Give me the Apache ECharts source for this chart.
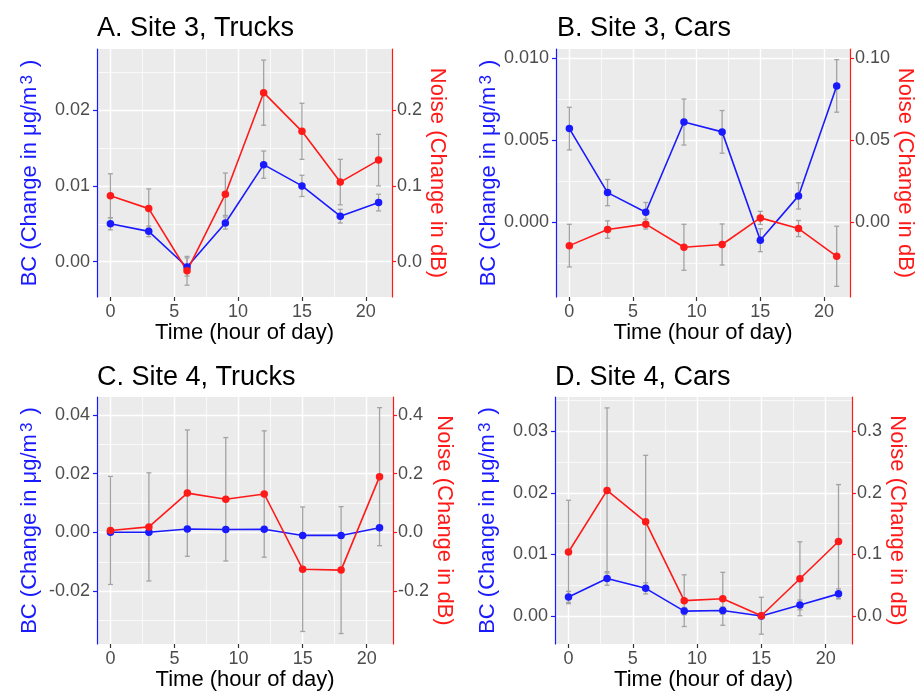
<!DOCTYPE html>
<html>
<head>
<meta charset="utf-8">
<script src="https://cdn.jsdelivr.net/npm/echarts@6/dist/echarts.min.js"></script>
<style>
  html, body { margin: 0; padding: 0; background: #fff; }
  #main { width: 917px; height: 695px; }
</style>
</head>
<body>
<div id="main"></div>
<script>
// hours of day, shared by all panels
var hours = [0, 3, 6, 9, 12, 15, 18, 21];
var hourTicks = [0, 5, 10, 15, 20];

var titles = ['A. Site 3, Trucks', 'B. Site 3, Cars', 'C. Site 4, Trucks', 'D. Site 4, Cars'];

// BC (change in ug/m3) and its error (half width)
var bcA = [0.0050, 0.0040, -0.0007, 0.0051, 0.0128, 0.0100, 0.0060, 0.0078];
var bcErrA = [0.0008, 0.0007, 0.0012, 0.0008, 0.0018, 0.0014, 0.0009, 0.0011];
var bcB = [0.0057, 0.0018, 0.0006, 0.0061, 0.0055, -0.0011, 0.0016, 0.0083];
var bcErrB = [0.0013, 0.0008, 0.0006, 0.0014, 0.0013, 0.0007, 0.0008, 0.0016];
var bcC = [0.0001, 0.0001, 0.0012, 0.0010, 0.0011, -0.0010, -0.0010, 0.0016];
var bcErrC = [0.0006, 0.0006, 0.0007, 0.0007, 0.0007, 0.0006, 0.0006, 0.0008];
var bcD = [0.0031, 0.0061, 0.0045, 0.0008, 0.0009, 0.0000, 0.0018, 0.0036];
var bcErrD = [0.0009, 0.0011, 0.0009, 0.0006, 0.0006, 0.0004, 0.0008, 0.0008];

// Noise (change in dB) and its error
var noiseA = [0.087, 0.070, -0.012, 0.089, 0.223, 0.172, 0.105, 0.134];
var noiseErrA = [0.029, 0.026, 0.019, 0.028, 0.043, 0.037, 0.030, 0.034];
var noiseB = [-0.0143, -0.0045, -0.0012, -0.0153, -0.0136, 0.0026, -0.0039, -0.0208];
var noiseErrB = [0.013, 0.0053, 0.003, 0.014, 0.0125, 0.004, 0.0049, 0.0183];
var noiseC = [0.007, 0.019, 0.134, 0.113, 0.131, -0.125, -0.128, 0.190];
var noiseErrC = [0.184, 0.184, 0.215, 0.210, 0.215, 0.212, 0.216, 0.235];
var noiseD = [0.104, 0.204, 0.153, 0.025, 0.028, 0.0005, 0.0605, 0.121];
var noiseErrD = [0.084, 0.134, 0.108, 0.042, 0.043, 0.030, 0.060, 0.0925];

// tick values / labels
var bcTicksA = [0, 0.01, 0.02];
var bcLabelsA = ['0.00', '0.01', '0.02'];
var noiseTicksA = [0, 0.1, 0.2];
var noiseLabelsA = ['0.0', '0.1', '0.2'];
var bcTicksB = [0, 0.005, 0.01];
var bcLabelsB = ['0.000', '0.005', '0.010'];
var noiseTicksB = [0, 0.05, 0.1];
var noiseLabelsB = ['0.00', '0.05', '0.10'];
var bcTicksC = [-0.02, 0, 0.02, 0.04];
var bcLabelsC = ['-0.02', '0.00', '0.02', '0.04'];
var noiseTicksC = [-0.2, 0, 0.2, 0.4];
var noiseLabelsC = ['-0.2', '0.0', '0.2', '0.4'];
var bcTicksD = [0, 0.01, 0.02, 0.03];
var bcLabelsD = ['0.00', '0.01', '0.02', '0.03'];
var noiseTicksD = [0, 0.1, 0.2, 0.3];
var noiseLabelsD = ['0.0', '0.1', '0.2', '0.3'];

var panels = [
  { bc: bcA, bcErr: bcErrA, noise: noiseA, noiseErr: noiseErrA, bcTicks: bcTicksA, bcLabels: bcLabelsA, noiseTicks: noiseTicksA, noiseLabels: noiseLabelsA,
    min: -0.00466, max: 0.02806, step: 0.01, grid: { left: 97, top: 49, width: 295, height: 248 }, titlePos: [97, 15] },
  { bc: bcB, bcErr: bcErrB, noise: noiseB, noiseErr: noiseErrB, bcTicks: bcTicksB, bcLabels: bcLabelsB, noiseTicks: noiseTicksB, noiseLabels: noiseLabelsB,
    min: -0.00456, max: 0.01055, step: 0.005, grid: { left: 556, top: 49, width: 295, height: 248 }, titlePos: [557, 15] },
  { bc: bcC, bcErr: bcErrC, noise: noiseC, noiseErr: noiseErrC, bcTicks: bcTicksC, bcLabels: bcLabelsC, noiseTicks: noiseTicksC, noiseLabels: noiseLabelsC,
    min: -0.03796, max: 0.04612, step: 0.02, grid: { left: 97, top: 397, width: 296, height: 247 }, titlePos: [97, 364] },
  { bc: bcD, bcErr: bcErrD, noise: noiseD, noiseErr: noiseErrD, bcTicks: bcTicksD, bcLabels: bcLabelsD, noiseTicks: noiseTicksD, noiseLabels: noiseLabelsD,
    min: -0.00454, max: 0.03557, step: 0.01, grid: { left: 555, top: 397, width: 297, height: 247 }, titlePos: [555, 364] }
];

var FONT = '"Liberation Sans", Arial, sans-serif';
var BLUE = '#1a1aff';
var RED = '#ff1a1a';
var TICK_GREY = '#4d4d4d';

function labelFor(ticks, labels) {
  return function (v) {
    for (var i = 0; i < ticks.length; i++) {
      if (Math.abs(ticks[i] - v) < 1e-9) return labels[i];
    }
    return '';
  };
}

function errData(vals, errs) {
  return hours.map(function (h, i) {
    return [h, vals[i] - errs[i], vals[i] + errs[i]];
  });
}

function renderErr(params, api) {
  var top = api.coord([api.value(0), api.value(2)]);
  var bot = api.coord([api.value(0), api.value(1)]);
  var cap = 2.5;
  var st = { stroke: '#a3a3a3', lineWidth: 1.3 };
  return {
    type: 'group',
    children: [
      { type: 'line', shape: { x1: top[0], y1: top[1], x2: bot[0], y2: bot[1] }, style: st },
      { type: 'line', shape: { x1: top[0] - cap, y1: top[1], x2: top[0] + cap, y2: top[1] }, style: st },
      { type: 'line', shape: { x1: bot[0] - cap, y1: bot[1], x2: bot[0] + cap, y2: bot[1] }, style: st }
    ]
  };
}

var grids = [], xAxes = [], yAxes = [], series = [], titleList = [];

panels.forEach(function (p, i) {
  grids.push(Object.assign({ backgroundColor: '#ebebeb', show: true, borderWidth: 0 }, p.grid));
  titleList.push({
    text: titles[i], left: p.titlePos[0], top: p.titlePos[1], padding: 0,
    textStyle: { fontFamily: FONT, fontSize: 27, fontWeight: 'normal', color: '#000' }
  });

  xAxes.push({
    gridIndex: i, type: 'value', min: -1.05, max: 22.05,
    minInterval: 5, maxInterval: 5,
    name: 'Time (hour of day)', nameLocation: 'middle', nameGap: 24,
    nameTextStyle: { fontFamily: FONT, fontSize: 22, color: '#000' },
    axisLine: { show: false, onZero: false },
    axisTick: { show: true, length: 4, customValues: hourTicks, lineStyle: { color: '#333', width: 1.2 } },
    axisLabel: { customValues: hourTicks, margin: 6, fontFamily: FONT, fontSize: 18, color: TICK_GREY },
    splitLine: { show: true, lineStyle: { color: '#fff', width: 1.4 } },
    minorTick: { show: false, splitNumber: 2 },
    minorSplitLine: { show: true, lineStyle: { color: '#fff', width: 0.7 } }
  });

  yAxes.push({
    gridIndex: i, type: 'value', position: 'left', min: p.min, max: p.max,
    minInterval: p.step, maxInterval: p.step,
    name: 'BC (Change in μg/m{sup|3} )', nameLocation: 'middle', nameGap: 56, nameRotate: 90,
    nameTextStyle: { fontFamily: FONT, fontSize: 22, color: BLUE,
      rich: { sup: { fontFamily: FONT, fontSize: 17, color: BLUE, verticalAlign: 'top', padding: [0, 2, 0, 2] } } },
    axisLine: { show: true, onZero: false, lineStyle: { color: BLUE, width: 1.2 } },
    axisTick: { show: true, length: 4, customValues: p.bcTicks, lineStyle: { color: BLUE, width: 1.2 } },
    axisLabel: { customValues: p.bcTicks, formatter: labelFor(p.bcTicks, p.bcLabels), margin: 7,
      fontFamily: FONT, fontSize: 18, color: TICK_GREY },
    splitLine: { show: true, lineStyle: { color: '#fff', width: 1.4 } },
    minorTick: { show: false, splitNumber: 2 },
    minorSplitLine: { show: true, lineStyle: { color: '#fff', width: 0.7 } }
  });
  yAxes.push({
    gridIndex: i, type: 'value', position: 'right', min: p.min * 10, max: p.max * 10,
    minInterval: p.step * 10, maxInterval: p.step * 10,
    name: 'Noise (Change in dB)', nameLocation: 'middle', nameGap: 30, nameRotate: -90,
    nameTextStyle: { fontFamily: FONT, fontSize: 22, color: RED },
    axisLine: { show: true, onZero: false, lineStyle: { color: RED, width: 1.2 } },
    axisTick: { show: true, length: 4, customValues: p.noiseTicks, lineStyle: { color: RED, width: 1.2 } },
    axisLabel: { customValues: p.noiseTicks, formatter: labelFor(p.noiseTicks, p.noiseLabels), margin: 5,
      fontFamily: FONT, fontSize: 18, color: TICK_GREY },
    splitLine: { show: false },
    minorSplitLine: { show: false }
  });

  series.push({
    type: 'custom', xAxisIndex: i, yAxisIndex: 2 * i, renderItem: renderErr,
    data: errData(p.bc, p.bcErr), z: 2, silent: true
  });
  series.push({
    type: 'custom', xAxisIndex: i, yAxisIndex: 2 * i + 1, renderItem: renderErr,
    data: errData(p.noise, p.noiseErr), z: 2, silent: true
  });
  series.push({
    type: 'line', xAxisIndex: i, yAxisIndex: 2 * i,
    data: hours.map(function (h, k) { return [h, p.bc[k]]; }),
    symbol: 'circle', symbolSize: 7.5, showAllSymbol: true, z: 3,
    lineStyle: { color: BLUE, width: 1.6 }, itemStyle: { color: BLUE }
  });
  series.push({
    type: 'line', xAxisIndex: i, yAxisIndex: 2 * i + 1,
    data: hours.map(function (h, k) { return [h, p.noise[k]]; }),
    symbol: 'circle', symbolSize: 7.5, showAllSymbol: true, z: 3,
    lineStyle: { color: RED, width: 1.6 }, itemStyle: { color: RED }
  });
});

var chart = echarts.init(document.getElementById('main'));
chart.setOption({
  animation: false,
  backgroundColor: '#fff',
  title: titleList,
  grid: grids,
  xAxis: xAxes,
  yAxis: yAxes,
  series: series
});
</script>
</body>
</html>
